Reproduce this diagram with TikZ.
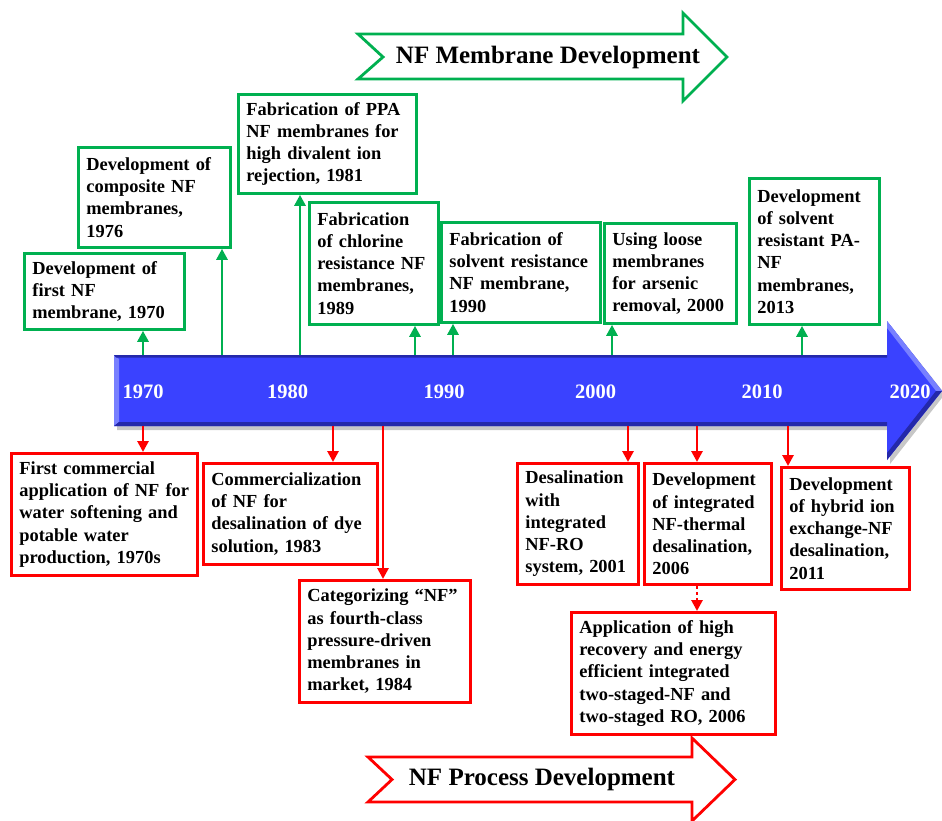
\documentclass[tikz,border=0pt]{standalone}
\usepackage{fontspec}
\setmainfont{Liberation Serif}
\usetikzlibrary{arrows.meta}

\definecolor{grn}{RGB}{0,176,80}
\definecolor{rd}{RGB}{255,0,0}
\definecolor{barblue}{RGB}{58,66,255}
\definecolor{bardark}{RGB}{36,40,170}
\definecolor{barlight}{RGB}{120,128,255}

\newcommand\evtfont{\fontsize{18.4}{22.2}\selectfont\bfseries}
\newcommand\yearfont{\fontsize{20.5}{24}\selectfont\bfseries}
\newcommand\bannerfont{\fontsize{25}{30}\selectfont\bfseries}

\tikzset{
  evt/.style={draw, line width=2.8pt, fill=white, inner xsep=8pt, inner ysep=0pt,
              anchor=north west, align=left, font=\evtfont},
  gbox/.style={evt, draw=grn},
  rbox/.style={evt, draw=rd},
  sz/.style 2 args={minimum width=#1 pt, text width=\dimexpr #1pt-16pt\relax, minimum height=#2 pt},
  garrow/.style={grn, line width=2.8pt, -{Triangle[width=11pt,length=11pt]}},
  rarrow/.style={rd, line width=2.8pt, -{Triangle[width=11pt,length=11pt]}},
  rdots/.style={rarrow, dash pattern=on 3pt off 3pt},
  year/.style={text=white, font=\yearfont, inner sep=0pt},
  banner/.style={font=\bannerfont, inner sep=0pt}
}

\begin{document}
\begin{tikzpicture}[x=1pt,y=-1pt]
\useasboundingbox (0,0) rectangle (942,820);

% ---- banner arrows ----
\draw[grn, line width=2.8pt, line join=miter, fill=white]
  (358,34) -- (683,34) -- (683,13) -- (727,57) -- (683,101) -- (683,79) -- (358,79) -- (383,57) -- cycle;
\node[banner] (memb) at (548,57) {NF Membrane Development};

\draw[rd, line width=2.8pt, line join=miter, fill=white]
  (368,757) -- (692,757) -- (692,738) -- (735,779.5) -- (692,821) -- (692,802) -- (368,802) -- (392,779.5) -- cycle;
\node[banner] (proc) at (542,779.5) {NF Process Development};

% ---- timeline bar ----
\fill[black!22] (117,359) -- (890,359) -- (890,325) -- (945,394) -- (890,464) -- (890,430) -- (117,430) -- cycle;
\fill[barblue] (114,355) -- (887,355) -- (887,321) -- (942,391) -- (887,460) -- (887,426) -- (114,426) -- cycle;
\fill[barlight] (114,355) -- (119,359) -- (119,422) -- (114,426) -- cycle;
\fill[bardark] (114,426) -- (119,422) -- (887,422) -- (887,426) -- cycle;
\fill[bardark] (114,355) -- (887,355) -- (887,357.5) -- (116,357.5) -- cycle;
\fill[barlight] (887,321) -- (942,391) -- (936,391) -- (887,328) -- cycle;
\fill[bardark] (887,460) -- (942,391) -- (936,391) -- (887,453) -- cycle;

\node[year] (y1970) at (143,392) {1970};
\node[year] (y1980) at (287.5,392) {1980};
\node[year] (y1990) at (444,392) {1990};
\node[year] (y2000) at (595.5,392) {2000};
\node[year] (y2010) at (762,392) {2010};
\node[year] (y2020) at (910,392) {2020};

% ---- membrane milestones (above the bar) ----
\node[gbox, sz={160}{76}] (A) at (23,252) {Development of\\first NF\\membrane, 1970};
\node[gbox, sz={152}{100}] (B) at (77,146) {Development of\\composite NF\\membranes,\\1976};
\node[gbox, sz={178}{99}] (C) at (237,93) {Fabrication of PPA\\NF membranes for\\high divalent ion\\rejection, 1981};
\node[gbox, sz={129}{122}] (D) at (308,201) {Fabrication\\of chlorine\\resistance NF\\membranes,\\1989};
\node[gbox, sz={159}{100}] (E) at (440,221) {Fabrication of\\solvent resistance\\NF membrane,\\1990};
\node[gbox, sz={132}{100}] (F) at (603,222) {Using loose\\membranes\\for arsenic\\removal, 2000};
\node[gbox, sz={130}{146}] (G) at (748,177) {Development\\of solvent\\resistant PA-\\NF\\membranes,\\2013};

% ---- process milestones (below the bar) ----
\node[rbox, sz={186}{122}] (H) at (10,452) {First commercial\\application of NF for\\water softening and\\potable water\\production, 1970s};
\node[rbox, sz={174}{101}] (I) at (202,462) {Commercialization\\of NF for\\desalination of dye\\solution, 1983};
\node[rbox, sz={171}{122}] (J) at (298,579) {Categorizing “NF”\\as fourth-class\\pressure-driven\\membranes in\\market, 1984};
\node[rbox, sz={121}{121}] (K) at (516,462) {Desalination\\with\\integrated\\NF-RO\\system, 2001};
\node[rbox, sz={127}{121}] (L) at (643,462) {Development\\of integrated\\NF-thermal\\desalination,\\2006};
\node[rbox, sz={128}{122}] (M) at (780,466) {Development\\of hybrid ion\\exchange-NF\\desalination,\\2011};
\node[rbox, sz={204}{122}] (N) at (570,611) {Application of high\\recovery and energy\\efficient integrated\\two-staged-NF and\\two-staged RO, 2006};

% ---- attachment points on the bar ----
\coordinate (g1) at (143,355);
\coordinate (g2) at (222,355);
\coordinate (g3) at (300,355);
\coordinate (g4) at (415,355);
\coordinate (g5) at (453,355);
\coordinate (g6) at (612,355);
\coordinate (g7) at (802,355);
\coordinate (r1) at (143,426);
\coordinate (r2) at (333,426);
\coordinate (r3) at (383,426);
\coordinate (r4) at (628,426);
\coordinate (r5) at (697,426);
\coordinate (r6) at (788,426);

% ---- connectors ----
\draw[garrow] (g1) -- (g1 |- A.south);
\draw[garrow] (g2) -- (g2 |- B.south);
\draw[garrow] (g3) -- (g3 |- C.south);
\draw[garrow] (g4) -- (g4 |- D.south);
\draw[garrow] (g5) -- (g5 |- E.south);
\draw[garrow] (g6) -- (g6 |- F.south);
\draw[garrow] (g7) -- (g7 |- G.south);

\draw[rarrow] (r1) -- (r1 |- H.north);
\draw[rarrow] (r2) -- (r2 |- I.north);
\draw[rarrow] (r3) -- (r3 |- J.north);
\draw[rarrow] (r4) -- (r4 |- K.north);
\draw[rarrow] (r5) -- (r5 |- L.north);
\draw[rarrow] (r6) -- (r6 |- M.north);
\draw[rdots] (L.south -| r5) -- (N.north -| r5);
\end{tikzpicture}
\end{document}
